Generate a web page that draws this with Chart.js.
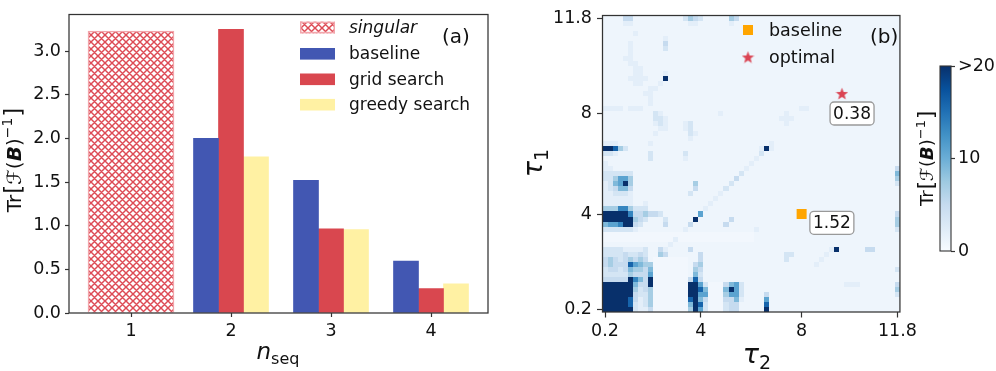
<!DOCTYPE html>
<html><head><meta charset="utf-8">
<script src="https://cdn.jsdelivr.net/npm/chart.js@4.4.1/dist/chart.umd.min.js"></script>
<style>
html,body{margin:0;padding:0;background:#fff;}
#wrap{position:relative;width:996px;height:371px;overflow:hidden;background:#fff;}
canvas{position:absolute;top:0;}
</style></head><body>
<div id="wrap">
<canvas id="cA" width="500" height="371" style="left:0px"></canvas>
<canvas id="cB" width="420" height="371" style="left:500px"></canvas>
<canvas id="cC" width="96" height="371" style="left:900px"></canvas>
</div>
<script>
// ---------------- data: panel (a) ----------------
const nSeqTicks = [1, 2, 3, 4];
const singularN = [1];
const singularVal = [3.23];
const groupN = [2, 3, 4];
const baselineVal = [2.00, 1.52, 0.596];
const gridVal = [3.25, 0.965, 0.28];
const greedyVal = [1.79, 0.955, 0.333];
const yTicksA = [0, 0.5, 1.0, 1.5, 2.0, 2.5, 3.0];
const legendA = ['singular', 'baseline', 'grid search', 'greedy search'];

// ---------------- data: panel (b) ----------------
const tau = [0.2,0.4,0.6,0.8,1.0,1.2,1.4,1.6,1.8,2.0,2.2,2.4,2.6,2.8,3.0,3.2,3.4,3.6,3.8,4.0,
  4.2,4.4,4.6,4.8,5.0,5.2,5.4,5.6,5.8,6.0,6.2,6.4,6.6,6.8,7.0,7.2,7.4,7.6,7.8,8.0,
  8.2,8.4,8.6,8.8,9.0,9.2,9.4,9.6,9.8,10.0,10.2,10.4,10.6,10.8,11.0,11.2,11.4,11.6,11.8];
const tauTicks = [0.2, 4, 8, 11.8];
// rows from tau1 = 11.8 (top) down to tau1 = 0.2 (bottom); columns tau2 = 0.2 .. 11.8
const heatRows = [
"0000330000 0000002432 0000043000 0000000000 0000000000 000000000",
"0000110000 0000000110 0000010000 0000000000 0000000000 000000000",
"0000000000 0000000000 0000000000 0000000000 0000000000 000000000",
"0000001000 0000000000 0000000000 0000000000 0000000000 000000000",
"0000000000 0010000000 0000000000 0000000000 0000000000 000000000",
"0000010000 0030000000 0000000000 0000000000 0000000000 000000000",
"0000010000 0020000000 0000000000 0000000000 0000000000 000000000",
"0000010000 0000000000 0000000000 0000000000 0000000000 000000000",
"0000110000 0000000000 0000000000 0000000000 0000000000 000000000",
"0000011000 0000000000 0000000000 0000000000 0000000000 000000000",
"0000001100 0000000000 0000000000 0000000000 0000000000 000000000",
"0000001100 0010000000 0000000000 0000000000 0000000000 000000000",
"0000011110 0090000000 0000000000 0000000000 0000000000 000000000",
"0000001100 0100000000 0000000000 0000000000 0000000000 000000000",
"0000000001 1000000000 0000000000 0000000000 0000000000 000000000",
"0000000011 0000000000 0000000000 0000000000 0000000000 000000000",
"0000000001 0000000000 0000000000 0000000000 0000000000 000000000",
"0000000001 0000000000 0000000000 0000000000 0000000000 000000000",
"1111011100 0000000000 0000000000 0000000001 1000000000 000000000",
"0000000000 2100000000 0001000000 0000001000 0000000000 000000000",
"0000000000 2210000000 0000000000 0000011100 0000000000 000000000",
"0000000000 1210001200 0000000000 0000001000 0000000000 000000000",
"0000000000 0110001200 0000000000 0000000000 0000000000 000000000",
"0000000000 1000000210 0000000000 0000000000 0000000000 000000000",
"0000000000 0000000100 0000000000 0000000000 0000000000 000000000",
"1110000001 0000000000 0000000000 0001000000 0000000000 000000000",
"9984200000 0000000000 0000000000 0191000000 0000000000 000000000",
"2210000002 0000002000 0000000000 0200000000 0000000000 000000000",
"0000000002 0000001000 0000000000 1000000000 0000000000 000000000",
"1000000000 0000000000 0000000001 0000000000 0000000000 000000000",
"1100000000 0000000000 0000000010 0000000000 0000000000 000000003",
"2222220000 0000000000 0000000200 0000000000 0000000000 000000005",
"2246640000 0000000000 0000003000 0000000000 0000000000 000000004",
"1256940000 0000000040 0000020000 0000000000 0000000000 000000002",
"1235530000 0000000030 0000200000 0000000000 0000000000 000000000",
"1122210000 0000000200 0001000000 0000000000 0000000000 000000000",
"1111110000 0000000000 0010000000 0000000000 0000000000 000000000",
"1111110010 0000000000 0100000000 0000000000 0000000000 000000000",
"4447742220 0000000000 1000000000 0000000000 0000000000 000000000",
"9999973343 3200000006 0000000000 0000000000 0000000000 000000003",
"9999994320 0020000090 0000030000 0000000000 0000000000 000000004",
"5667993200 0030000300 0000300000 0000000000 0000000000 000000004",
"2222221000 0000001000 0000000000 1000000000 0000000000 000000002",
".......... .......... .......... 0000000000 0000000000 000000000",
".......... ....1..... .......... 0000000000 0000000000 000000000",
"0000000000 0001000000 0000000000 0000000000 0000000000 000000000",
"2222111120 0310000300 0000000000 0000000000 0000019000 003300000",
"2222322320 0430000003 0000000000 0000002200 0000100000 000000000",
"3432343430 .......003 0000000000 0000002000 0001000000 000000000",
"3433386544 .......034 0000000000 0000000000 0010000000 000000000",
"2332354435 .......043 0000000000 0000000000 0000000000 000000002",
"2222243336 .......052 0000000000 0000000000 0000000000 000000000",
"3333397539 .......383 0000000000 0000000000 0000000000 000000000",
"9999995339 .......996 2...356200 0000000000 0000000011 100000003",
"9999994234 .......998 5...596200 0000000000 0000000000 000000004",
"9999993224 .......996 6...466200 0030000000 0000000000 000000002",
"9999983124 .......895 3...335100 0060000000 0000000000 000000000",
"9999982124 .......598 2...233000 0080000000 0000000000 000000000",
"9999992113 .......496 2...233000 0090000000 0000000000 000000000"
];
const levelValue = {'.':0.55,'0':0.95,'1':2,'2':3.5,'3':5,'4':7,'5':9,'6':11,'7':13.5,'8':16,'9':22};
const baselinePt = [{x: 8, y: 4}];
const optimalPt = [{x: 9.6, y: 8.8}];
const annotations = [{x: 10.0, y: 8.0, text: '0.38'}, {x: 9.2, y: 3.65, text: '1.52'}];
const cbTicks = [0, 10, 20];
const cbMax = 20;

// ---------------- styles ----------------
const FAM = "'DejaVu Sans', sans-serif";
const TXT = '#111';
const SPINE = '#333';
const C_BASE = '#4257b2', C_GRID = '#d9474f', C_GREEDY = '#fff1a3';
const C_HATCH = '#dd4b55', C_HATCH_EDGE = '#f2a5ab';
const C_ORANGE = '#ffa500', C_STAR = '#da4453';
const BLUES = ['#f7fbff','#deebf7','#c6dbef','#9ecae1','#6baed6','#4292c6','#2171b5','#08519c','#08306b'];

Chart.defaults.font.family = FAM;
Chart.defaults.color = TXT;

function hex(h){return [parseInt(h.slice(1,3),16),parseInt(h.slice(3,5),16),parseInt(h.slice(5,7),16)];}
function blues(t){
  t = Math.max(0, Math.min(1, t));
  const p = t*8, i = Math.min(7, Math.floor(p)), f = p - i;
  const a = hex(BLUES[i]), b = hex(BLUES[i+1]);
  return 'rgb(' + a.map((v,k)=>Math.round(v+(b[k]-v)*f)).join(',') + ')';
}
function makeHatch(ctx){
  const s = 7;
  const c = document.createElement('canvas'); c.width = s; c.height = s;
  const g = c.getContext('2d');
  g.fillStyle = '#fff'; g.fillRect(0,0,s,s);
  g.strokeStyle = C_HATCH; g.lineWidth = 1.45;
  g.beginPath();
  g.moveTo(-1, s+1); g.lineTo(s+1, -1);
  g.moveTo(-2, 2); g.lineTo(2, -2);
  g.moveTo(s-2, s+2); g.lineTo(s+2, s-2);
  g.moveTo(-1, -1); g.lineTo(s+1, s+1);
  g.moveTo(s-2, -2); g.lineTo(s+2, 2);
  g.moveTo(-2, s-2); g.lineTo(2, s+2);
  g.stroke();
  return ctx.createPattern(c, 'repeat');
}
function makeStar(size, color){
  const c = document.createElement('canvas'); c.width = size; c.height = size;
  const g = c.getContext('2d');
  const cx = size/2, cy = size/2 + size*0.05, R = size/2, r = R*0.42;
  g.beginPath();
  for (let k = 0; k < 10; k++) {
    const ang = -Math.PI/2 + k*Math.PI/5, rad = (k % 2) ? r : R;
    g.lineTo(cx + rad*Math.cos(ang), cy + rad*Math.sin(ang));
  }
  g.closePath(); g.fillStyle = color; g.fill();
  return c;
}
function drawRuns(ctx, runs, x, y, rot){
  ctx.save();
  ctx.translate(x, y);
  if (rot) ctx.rotate(rot);
  ctx.textBaseline = 'alphabetic'; ctx.textAlign = 'left';
  let total = 0;
  runs.forEach(r => { ctx.font = r.f; r.w = ctx.measureText(r.t).width; total += r.w + (r.dx||0); });
  let cx = -total/2;
  runs.forEach(r => { ctx.font = r.f; ctx.fillStyle = r.c || TXT; cx += (r.dx||0); ctx.fillText(r.t, cx, r.dy||0); cx += r.w; });
  ctx.restore();
}
function trRuns(px){
  const s = px, b = Math.round(px*1.15), sup = Math.round(px*0.7);
  return [
    {t:'Tr', f: s+'px '+FAM},
    {t:'[', f: b+'px '+FAM, dx: 1},
    {t:'\u2131', f: 'italic '+s+'px '+FAM},
    {t:'(', f: s+'px '+FAM},
    {t:'B', f: 'bold italic '+s+'px '+FAM},
    {t:')', f: s+'px '+FAM},
    {t:'\u22121', f: sup+'px '+FAM, dy: -Math.round(px*0.45)},
    {t:']', f: b+'px '+FAM, dx: 1}
  ];
}
function boxPlugin(id){
  return { id, afterDraw(chart){
    const {ctx, chartArea:a} = chart;
    ctx.save(); ctx.strokeStyle = SPINE; ctx.lineWidth = 1.25;
    ctx.strokeRect(a.left, a.top, a.right-a.left, a.bottom-a.top);
    ctx.restore();
  }};
}
const TICKFONT = {family: FAM, size: 17.5};

// ---------------- panel (a) ----------------
const ctxA = document.getElementById('cA').getContext('2d');
const hatch = makeHatch(ctxA);
const decorA = {
  id: 'decorA',
  afterDraw(chart){
    const ctx = chart.ctx;
    ctx.save();
    const items = [
      {fill: hatch, edge: C_HATCH_EDGE, y: 27.5, italic: true},
      {fill: C_BASE, y: 53.8},
      {fill: C_GRID, y: 79.3},
      {fill: C_GREEDY, y: 104.7}
    ];
    items.forEach((it, i) => {
      ctx.fillStyle = it.fill;
      ctx.fillRect(300, it.y - 5.8, 35, 11.6);
      if (it.edge) { ctx.strokeStyle = it.edge; ctx.lineWidth = 1.5; ctx.strokeRect(300.75, it.y-5.05, 33.5, 10.1); }
      ctx.fillStyle = TXT; ctx.textBaseline = 'middle'; ctx.textAlign = 'left';
      ctx.font = (it.italic ? 'italic ' : '') + '17px ' + FAM;
      ctx.fillText(legendA[i], 349, it.y + 1);
    });
    ctx.font = '20px ' + FAM; ctx.textBaseline = 'middle';
    ctx.fillText('(a)', 442, 38);
    ctx.restore();
    drawRuns(ctx, trRuns(20), 21, 160, -Math.PI/2);
    drawRuns(ctx, [{t:'n', f:'italic 23px '+FAM}, {t:'seq', f:'16px '+FAM, dy: 5}], 278, 359, 0);
  }
};
new Chart(ctxA, {
  type: 'bar',
  data: {
    datasets: [
      {label: 'singular', data: singularN.map((n,i)=>({x:n, y:singularVal[i]})), grouped: false, barThickness: 86,
       backgroundColor: hatch, borderColor: C_HATCH_EDGE, borderWidth: 1.5},
      {label: 'baseline', data: groupN.map((n,i)=>({x:n, y:baselineVal[i]})), barThickness: 25, backgroundColor: C_BASE, borderWidth: 0},
      {label: 'grid search', data: groupN.map((n,i)=>({x:n, y:gridVal[i]})), barThickness: 25, backgroundColor: C_GRID, borderWidth: 0},
      {label: 'greedy search', data: groupN.map((n,i)=>({x:n, y:greedyVal[i]})), barThickness: 25, backgroundColor: C_GREEDY, borderWidth: 0}
    ]
  },
  options: {
    responsive: false, animation: false, devicePixelRatio: 1,
    layout: {padding: {left: 0, right: 12, top: 5, bottom: 0}},
    plugins: {legend: {display: false}, tooltip: {enabled: false}},
    scales: {
      x: {type: 'linear', min: 0.38, max: 4.57, offset: false,
          afterBuildTicks: s => { s.ticks = nSeqTicks.map(v => ({value: v})); },
          afterFit: s => { s.height = 58; },
          ticks: {font: TICKFONT, color: TXT, padding: 3.5, maxRotation: 0, autoSkip: false, callback: v => String(v)},
          grid: {offset: false, drawOnChartArea: false, tickLength: 4, tickColor: SPINE, tickWidth: 1.2},
          border: {display: false}},
      y: {type: 'linear', min: 0, max: 3.42,
          afterBuildTicks: s => { s.ticks = yTicksA.map(v => ({value: v})); },
          afterFit: s => { s.width = 69; },
          ticks: {font: TICKFONT, color: TXT, padding: 4, callback: v => Number(v).toFixed(1)},
          grid: {drawOnChartArea: false, tickLength: 4, tickColor: SPINE, tickWidth: 1.2},
          border: {display: false}}
    }
  },
  plugins: [boxPlugin('boxA'), decorA]
});

// ---------------- panel (b) ----------------
const ctxB = document.getElementById('cB').getContext('2d');
const star = makeStar(13, C_STAR);
const heatPlugin = {
  id: 'heat',
  beforeDatasetsDraw(chart){
    const {ctx, scales:{x, y}} = chart;
    const n = tau.length, half = 0.1;
    ctx.save();
    for (let r = 0; r < n; r++) {
      const row = heatRows[n-1-r].replace(/ /g, '');
      const y0 = Math.round(y.getPixelForValue(tau[r] + half)), y1 = Math.round(y.getPixelForValue(tau[r] - half));
      for (let c = 0; c < n; c++) {
        const ch = row[c] || '0';
        const x0 = Math.round(x.getPixelForValue(tau[c] - half)), x1 = Math.round(x.getPixelForValue(tau[c] + half));
        ctx.fillStyle = blues(levelValue[ch] / cbMax);
        ctx.fillRect(x0, y0, x1 - x0, y1 - y0);
      }
    }
    ctx.restore();
  },
  afterDatasetsDraw(chart){
    const {ctx, scales:{x, y}} = chart;
    ctx.save();
    annotations.forEach(an => {
      const px = x.getPixelForValue(an.x), py = y.getPixelForValue(an.y);
      const w = 44, h = 23;
      ctx.beginPath();
      ctx.roundRect(px - w/2, py - h/2, w, h, 4);
      ctx.fillStyle = '#fff'; ctx.fill();
      ctx.strokeStyle = '#999'; ctx.lineWidth = 1.3; ctx.stroke();
      ctx.fillStyle = TXT; ctx.font = '17px ' + FAM; ctx.textAlign = 'center'; ctx.textBaseline = 'middle';
      ctx.fillText(an.text, px, py + 1);
    });
    ctx.restore();
  }
};
const decorB = {
  id: 'decorB',
  afterDraw(chart){
    const ctx = chart.ctx;
    ctx.save();
    ctx.fillStyle = C_ORANGE; ctx.fillRect(243, 25, 10, 10);
    ctx.drawImage(star, 248 - 6.5, 57 - 6.5);
    ctx.fillStyle = TXT; ctx.font = '17.5px ' + FAM; ctx.textBaseline = 'middle'; ctx.textAlign = 'left';
    ctx.fillText('baseline', 269, 31);
    ctx.fillText('optimal', 269, 58);
    ctx.font = '20px ' + FAM;
    ctx.fillText('(b)', 370, 38);
    ctx.restore();
    drawRuns(ctx, [{t:'\u03c4', f:'italic 27px '+FAM}, {t:'1', f:'19px '+FAM, dy: 6}], 42, 163, -Math.PI/2);
    drawRuns(ctx, [{t:'\u03c4', f:'italic 27px '+FAM}, {t:'2', f:'19px '+FAM, dy: 6}], 257, 363, 0);
  }
};
new Chart(ctxB, {
  type: 'scatter',
  data: {
    datasets: [
      {label: 'baseline', data: baselinePt, pointStyle: 'rect', pointRadius: 7.07, backgroundColor: C_ORANGE, borderWidth: 0},
      {label: 'optimal', data: optimalPt, pointStyle: star, pointRadius: 6.5, backgroundColor: C_STAR, borderWidth: 0}
    ]
  },
  options: {
    responsive: false, animation: false, devicePixelRatio: 1,
    layout: {padding: {left: 0, right: 12, top: 5, bottom: 0}},
    plugins: {legend: {display: false}, tooltip: {enabled: false}},
    scales: {
      x: {type: 'linear', min: 0.1, max: 11.9,
          afterBuildTicks: s => { s.ticks = tauTicks.map(v => ({value: v})); },
          afterFit: s => { s.height = 59; },
          ticks: {font: TICKFONT, color: TXT, padding: 3, maxRotation: 0, autoSkip: false, callback: v => String(v)},
          grid: {drawOnChartArea: false, tickLength: 5.5, tickColor: SPINE, tickWidth: 1.2},
          border: {display: false}},
      y: {type: 'linear', min: 0.1, max: 11.9,
          afterBuildTicks: s => { s.ticks = tauTicks.map(v => ({value: v})); },
          afterFit: s => { s.width = 102.5; },
          ticks: {font: TICKFONT, color: TXT, padding: 5, autoSkip: false, callback: v => String(v)},
          grid: {drawOnChartArea: false, tickLength: 5.5, tickColor: SPINE, tickWidth: 1.2},
          border: {display: false}}
    }
  },
  plugins: [heatPlugin, boxPlugin('boxB'), decorB]
});

// ---------------- colorbar ----------------
const ctxC = document.getElementById('cC').getContext('2d');
const cbPlugin = {
  id: 'cb',
  beforeDatasetsDraw(chart){
    const {ctx, chartArea:a, scales:{y}} = chart;
    const y0 = y.getPixelForValue(0), y1 = y.getPixelForValue(cbMax);
    const g = ctx.createLinearGradient(0, y0, 0, y1);
    BLUES.forEach((c, i) => g.addColorStop(i/(BLUES.length-1), c));
    ctx.save();
    ctx.fillStyle = g; ctx.fillRect(a.left, y1, a.right - a.left, y0 - y1);
    ctx.strokeStyle = SPINE; ctx.lineWidth = 1.1;
    ctx.strokeRect(a.left, y1, a.right - a.left, y0 - y1);
    ctx.restore();
    drawRuns(ctx, trRuns(18), 33, (y0 + y1)/2, -Math.PI/2);
  }
};
new Chart(ctxC, {
  type: 'scatter',
  data: {datasets: [{data: []}]},
  options: {
    responsive: false, animation: false, devicePixelRatio: 1,
    layout: {padding: {left: 40, right: 0, top: 66, bottom: 120}},
    plugins: {legend: {display: false}, tooltip: {enabled: false}},
    scales: {
      x: {display: false, min: 0, max: 1},
      y: {type: 'linear', position: 'right', min: 0, max: cbMax,
          afterBuildTicks: s => { s.ticks = cbTicks.map(v => ({value: v})); },
          afterFit: s => { s.width = 45; },
          ticks: {font: TICKFONT, color: TXT, padding: 3, callback: v => (v === cbMax ? '>' + v : String(v))},
          grid: {drawOnChartArea: false, tickLength: 4, tickColor: SPINE, tickWidth: 1.2},
          border: {display: false}}
    }
  },
  plugins: [cbPlugin]
});
</script>
</body></html>
